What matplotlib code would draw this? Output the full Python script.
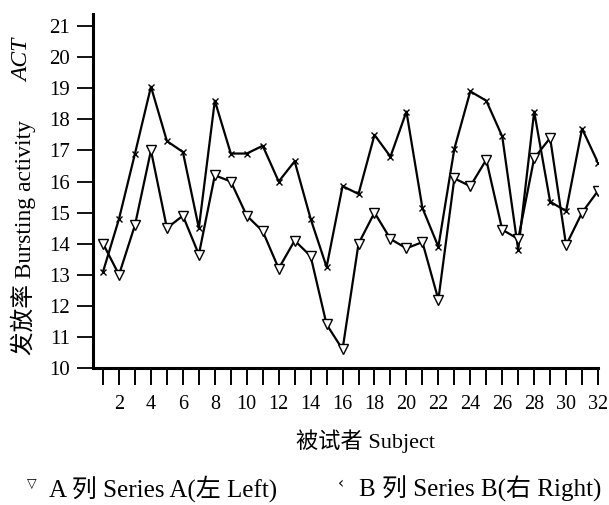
import matplotlib
matplotlib.use("Agg")
import matplotlib.pyplot as plt

plt.rcParams['font.family'] = ['Liberation Serif', 'Noto Sans CJK SC', 'DejaVu Sans']

# --- data ---
subjects = list(range(1, 33))
series_a = [14.0, 13.0, 14.6, 17.0, 14.5, 14.9, 13.65, 16.2, 16.0, 14.9,
            14.4, 13.2, 14.1, 13.6, 11.4, 10.6, 14.0, 15.0, 14.15, 13.85,
            14.05, 12.2, 16.1, 15.85, 16.7, 14.45, 14.15, 16.75, 17.4, 13.95,
            15.0, 15.7]
series_b = [13.1, 14.8, 16.9, 19.05, 17.3, 16.95, 14.5, 18.6, 16.9, 16.9,
            17.15, 16.0, 16.65, 14.8, 13.25, 15.85, 15.6, 17.5, 16.8, 18.25,
            15.15, 13.9, 17.05, 18.9, 18.6, 17.45, 13.8, 18.25, 15.35, 15.05,
            17.7, 16.6]
y_ticks = list(range(10, 22))
x_ticks = list(range(1, 33))
x_labels = [str(s) if s % 2 == 0 else "" for s in x_ticks]

label_a = "A 列 Series A(左 Left)"
label_b = "B 列 Series B(右 Right)"


def main():
    fig = plt.figure(figsize=(6.09, 5.05), dpi=100)
    ax = fig.add_axes([0.1527, 0.2713, 0.8293, 0.7010])

    ax.plot(subjects, series_b, color='black', lw=1.6, marker='x',
            ms=5, mew=1.0, zorder=3)
    ax.plot(subjects, series_a, color='black', lw=1.6, marker='v',
            ms=7, mfc='white', mec='black', mew=1.0, zorder=4)

    ax.set_xlim(0.37, 32)
    ax.set_ylim(10, 21.39)
    ax.set_xticks(x_ticks)
    ax.set_xticklabels(x_labels)
    ax.set_yticks(y_ticks)

    ax.spines['top'].set_visible(False)
    ax.spines['right'].set_visible(False)
    ax.spines['left'].set_linewidth(2.2)
    ax.spines['bottom'].set_linewidth(2.2)

    ax.tick_params(axis='x', direction='out', length=12.5, width=1.4,
                   pad=7, labelsize=14.5)
    ax.tick_params(axis='y', direction='out', length=11.5, width=1.3,
                   pad=5, labelsize=15)

    # axis titles
    fig.text(0.038, 0.53, "发放率 Bursting activity", rotation=90,
             ha='center', va='center', fontsize=17)
    fig.text(0.038, 0.88, "ACT", rotation=90, ha='center', va='center',
             fontsize=17, style='italic')
    fig.text(0.60, 0.126, "被试者 Subject", ha='center', va='center',
             fontsize=16)

    # legend row
    fig.text(0.045, 0.042, "\u25bd", ha='left', va='center', fontsize=9,
             family=['DejaVu Sans'])
    fig.text(0.081, 0.016, label_a, ha='left', va='baseline', fontsize=18)
    fig.text(0.555, 0.042, "\u2039", ha='left', va='center', fontsize=11,
             family=['DejaVu Sans'])
    fig.text(0.589, 0.016, label_b, ha='left', va='baseline', fontsize=18)

    fig.savefig("out.png", dpi=100)


if __name__ == "__main__":
    main()
